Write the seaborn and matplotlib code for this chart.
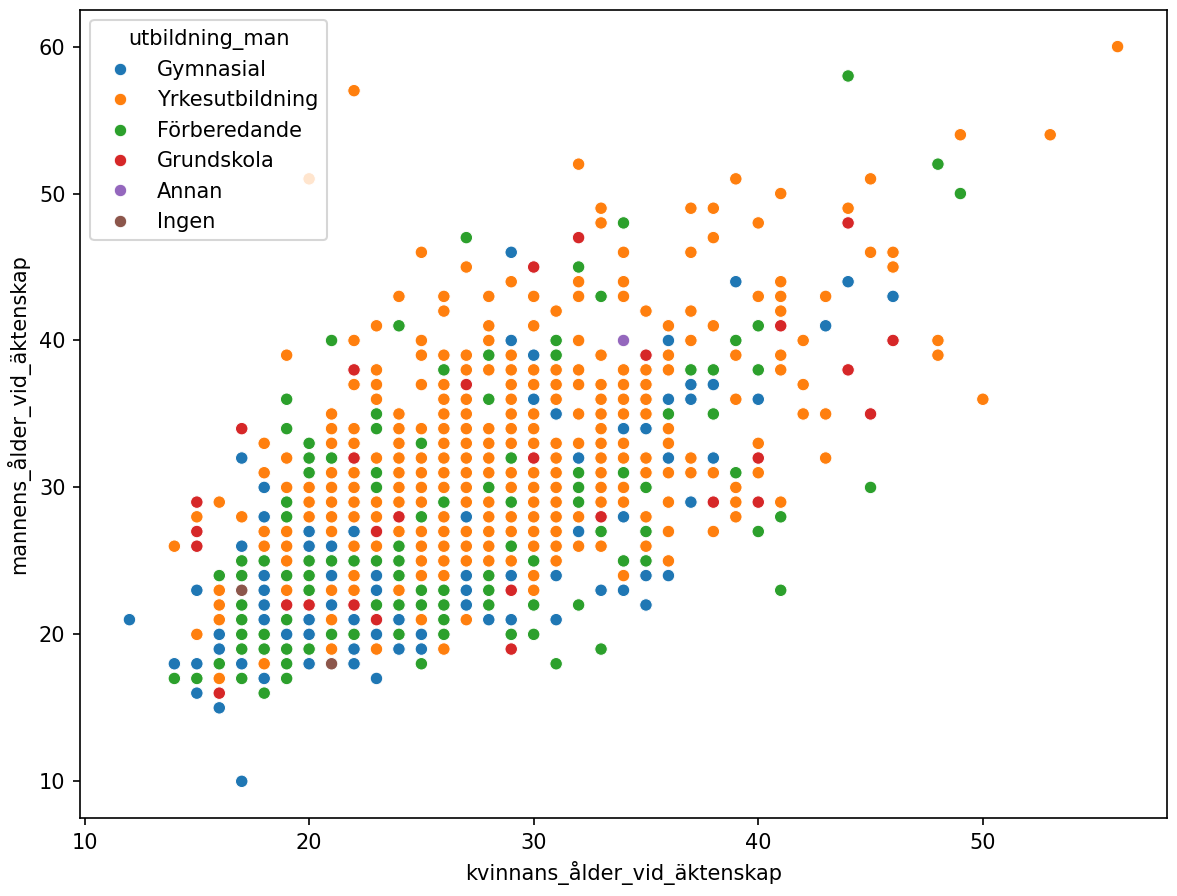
import matplotlib
matplotlib.use("Agg")
import matplotlib.pyplot as plt
import seaborn as sns
import pandas as pd

# Gymnasial
gym_x = [12, 14, 15, 15, 15, 16, 16, 16, 17, 17, 17, 17,
         18, 18, 18, 18, 18, 18, 18, 19, 20, 20, 20, 20, 20,
         21, 21, 21, 22, 22, 22, 22, 23, 23, 23, 23, 24, 24, 25, 25,
         27, 27, 27, 27, 28, 29, 29, 29, 29, 30, 30, 31, 31, 31,
         32, 32, 33, 34, 34, 34, 35, 35, 35, 36, 36, 36, 36,
         37, 37, 37, 38, 38, 39, 40, 43, 44, 46]
gym_y = [21, 18, 23, 18, 16, 20, 19, 15, 32, 26, 18, 10,
         30, 28, 24, 23, 22, 21, 17, 20, 27, 26, 21, 20, 18,
         26, 24, 22, 27, 21, 19, 18, 24, 23, 20, 17, 21, 19, 20, 19,
         28, 24, 23, 22, 21, 46, 40, 24, 21, 39, 36, 35, 24, 21,
         32, 27, 23, 34, 28, 23, 34, 24, 22, 40, 36, 32, 24,
         37, 36, 29, 37, 32, 44, 36, 41, 44, 43]

# Yrkesutbildning: x value -> list of y values
yrk_cols = {
    14: [26],
    15: [28, 20],
    16: [29, 23, 22, 21, 17],
    17: [28],
    18: [33, 31, 27, 26, 18],
    19: [39, 32, 30, 27, 26, 25, 23],
    20: [51, 30, 29, 28],
    21: [35, 34, 33, 31, 30, 29, 28, 27, 23, 21, 19],
    22: [57, 40, 37, 34, 33, 31, 30, 29, 28, 26, 24, 23],
    23: [41, 38, 37, 36, 32, 29, 28, 26, 19],
    24: [43, 35, 34, 33, 32, 31, 30, 29, 27, 23],
    25: [46, 40, 39, 37, 34, 32, 31, 30, 29, 27, 26, 25, 24, 21],
    26: [43, 42, 39, 37, 36, 35, 34, 33, 32, 31, 30, 28, 27, 26, 25, 24, 19],
    27: [45, 39, 38, 36, 35, 34, 33, 32, 31, 30, 29, 27, 26, 25, 21],
    28: [43, 41, 40, 38, 34, 33, 32, 31, 29, 28, 27, 26, 25],
    29: [44, 39, 38, 37, 36, 35, 34, 33, 31, 30, 28, 27, 25],
    30: [43, 41, 38, 37, 35, 34, 33, 31, 30, 29, 28, 27, 26, 24, 23],
    31: [42, 38, 37, 36, 33, 32, 31, 30, 29, 28, 27, 26, 25],
    32: [52, 44, 43, 40, 38, 37, 35, 33, 28, 26],
    33: [49, 48, 39, 37, 36, 35, 34, 33, 32, 31, 30, 29, 26],
    34: [46, 44, 43, 38, 37, 36, 35, 33, 32, 30, 29, 24],
    35: [42, 38, 37, 36, 35, 32, 31, 28, 26],
    36: [41, 39, 38, 34, 33, 31, 29, 27, 25],
    37: [49, 46, 42, 40, 32, 31],
    38: [49, 47, 41, 31, 27],
    39: [51, 39, 36, 30, 29, 28],
    40: [48, 43, 33, 31],
    41: [50, 44, 43, 42, 39, 38, 29],
    42: [40, 37, 35],
    43: [43, 35, 32],
    44: [49],
    45: [51, 46],
    46: [46, 45],
    48: [40, 39],
    49: [54],
    50: [36],
    53: [54],
    56: [60],
}

# Förberedande
forb_cols = {
    14: [17],
    15: [17],
    16: [24, 18],
    17: [25, 24, 22, 21, 20, 19, 17],
    18: [25, 20, 19, 16],
    19: [36, 34, 29, 28, 24, 21, 19, 18, 17],
    20: [33, 32, 31, 25, 24, 23, 19],
    21: [40, 32, 25, 20],
    22: [25, 20],
    23: [35, 34, 31, 30, 25, 22],
    24: [41, 26, 25, 24, 22, 20],
    25: [33, 28, 23, 22, 18],
    26: [38, 29, 23, 22, 21, 20],
    27: [47],
    28: [39, 36, 30, 24, 23, 22],
    29: [32, 29, 26, 20],
    30: [25, 22, 20],
    31: [40, 39, 18],
    32: [45, 31, 30, 29, 22],
    33: [43, 27, 19],
    34: [48, 31, 25],
    35: [30, 27, 25],
    36: [35],
    37: [38],
    38: [38, 35],
    39: [40, 31],
    40: [41, 38, 27],
    41: [28, 23],
    44: [58],
    45: [30],
    48: [52],
    49: [50],
}

# Grundskola
grund_x = [15, 15, 15, 16, 17, 19, 20, 22, 22, 22, 23, 23, 24, 27, 29, 29,
           30, 30, 32, 33, 35, 38, 40, 40, 41, 44, 44, 45, 46]
grund_y = [29, 27, 26, 16, 34, 22, 22, 38, 32, 22, 27, 21, 28, 37, 23, 19,
           45, 32, 47, 28, 39, 29, 32, 29, 41, 48, 38, 35, 40]

# Annan
annan_x = [34]
annan_y = [40]

# Ingen
ingen_x = [17, 21]
ingen_y = [23, 18]

hue_order = ["Gymnasial", "Yrkesutbildning", "Förberedande", "Grundskola", "Annan", "Ingen"]

rows = []
for x, y in zip(gym_x, gym_y):
    rows.append((x, y, "Gymnasial"))
for x, ys in yrk_cols.items():
    for y in ys:
        rows.append((x, y, "Yrkesutbildning"))
for x, ys in forb_cols.items():
    for y in ys:
        rows.append((x, y, "Förberedande"))
for x, y in zip(grund_x, grund_y):
    rows.append((x, y, "Grundskola"))
for x, y in zip(annan_x, annan_y):
    rows.append((x, y, "Annan"))
for x, y in zip(ingen_x, ingen_y):
    rows.append((x, y, "Ingen"))

df = pd.DataFrame(rows, columns=["kvinnans_ålder_vid_äktenskap",
                                 "mannens_ålder_vid_äktenskap",
                                 "utbildning_man"])

dpi = 150
fig, ax = plt.subplots(figsize=(1177 / dpi, 896 / dpi), dpi=dpi)
fig.subplots_adjust(left=0.068, right=0.9915, bottom=0.087, top=0.989)

sns.scatterplot(data=df, x="kvinnans_ålder_vid_äktenskap",
                y="mannens_ålder_vid_äktenskap",
                hue="utbildning_man", hue_order=hue_order, ax=ax)
ax.legend(title="utbildning_man", loc="upper left")

fig.savefig("out.png", dpi=dpi)
